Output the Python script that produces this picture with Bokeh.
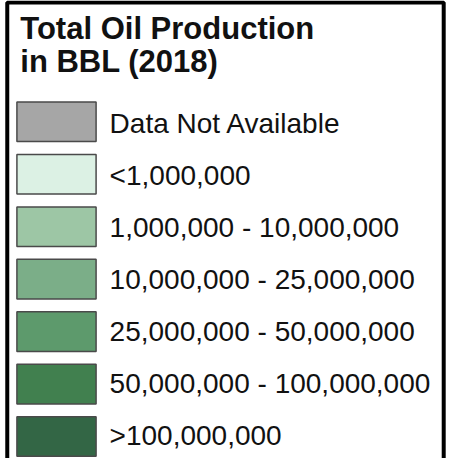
from bokeh.plotting import figure
from bokeh.models import Range1d, ColumnDataSource
from bokeh.embed import file_html
from bokeh.resources import INLINE
from bokeh.core.properties import value

# ---- data ----
title_lines = ["Total Oil Production", "in BBL (2018)"]
categories = [
    "Data Not Available",
    "<1,000,000",
    "1,000,000 - 10,000,000",
    "10,000,000 - 25,000,000",
    "25,000,000 - 50,000,000",
    "50,000,000 - 100,000,000",
    ">100,000,000",
]
colors = ["#a6a6a6", "#dcf1e4", "#9dc6a5", "#7bae88", "#5d9a6c", "#41804f", "#336645"]

# ---- layout (reference pixel frame 465 x 474, drawn into a 449 x 458 figure) ----
W, H = 449, 458
REF_W, REF_H = 465, 474
sw_left, sw_right = 17, 99
sw_top0, sw_step, sw_h = 105, 54.3, 41
lab_x, lab_y0, lab_step = 113, 137.3, 53.8
FIX = 10  # compensation for the renderer's baseline placement

p = figure(width=W, height=H, output_backend="svg", toolbar_location=None,
           x_range=Range1d(0, REF_W), y_range=Range1d(REF_H, 0),
           min_border=0)
p.axis.visible = False
p.grid.visible = False
p.outline_line_color = None
p.background_fill_color = "white"
p.border_fill_color = "white"

n = len(categories)
tops = [sw_top0 + i * sw_step for i in range(n)]
src = ColumnDataSource(dict(
    left=[sw_left] * n, right=[sw_right] * n,
    top=tops, bottom=[t + sw_h for t in tops],
    color=colors,
    lx=[lab_x] * n, ly=[lab_y0 + i * lab_step - FIX for i in range(n)],
    label=categories,
))
p.quad(left="left", right="right", top="top", bottom="bottom", source=src,
       fill_color="color", line_color="#4a4a4a", line_width=1.5)
p.text(x="lx", y="ly", text="label", source=src, text_font=value("Liberation Sans"),
       text_font_size="28px", text_color="#111111", text_baseline="alphabetic",
       text_align="left")

# title
p.text(x=[20.5, 20.5], y=[39.3 - FIX, 72.7 - FIX], text=title_lines,
       text_font=value("Liberation Sans"), text_font_size="31px",
       text_font_style="bold", text_color="#111111",
       text_baseline="alphabetic", text_align="left")

# frame border (top, left, right)
p.line(x=[7, 7, 459, 459], y=[REF_H + 5, 2, 2, REF_H + 5],
       line_color="black", line_width=4)

open("out.html", "w").write(file_html(p, INLINE))
